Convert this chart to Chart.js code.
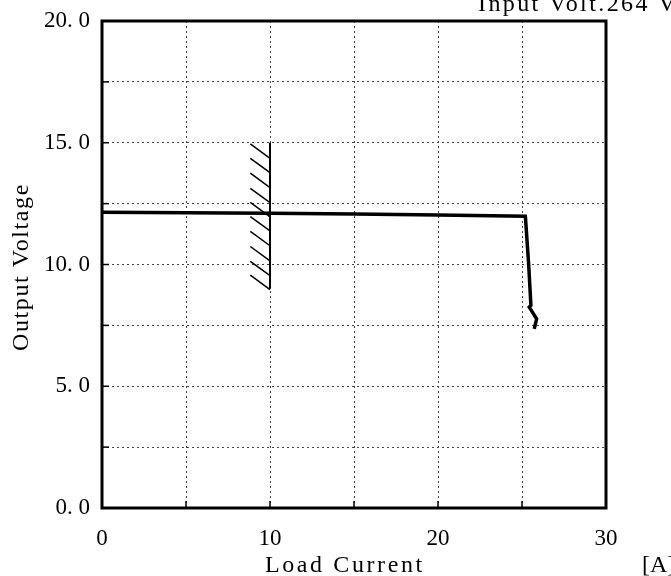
<!DOCTYPE html>
<html lang="en">
<head>
<meta charset="utf-8">
<title>Output Voltage vs Load Current</title>
<script src="https://cdn.jsdelivr.net/npm/chart.js"></script>
<style>
  body { margin: 0; background: #fff; }
</style>
</head>
<body>
<canvas id="loadChart" width="671" height="576"></canvas>
<script>
// load curve, input 264 V
const currentA = [0, 5, 10, 15, 20, 25.2, 25.4, 25.53, 25.43, 25.87, 25.73];
const voltageV = [12.15, 12.13, 12.1, 12.07, 12.03, 11.98, 9.96, 8.32, 8.25, 7.77, 7.36];

// hatched limit mark at 10 A
const limitX = [10, 10];
const limitY = [15.0, 9.0];
const hatchLeftX = 8.83;
const hatchTopY = [14.95, 14.36, 13.75, 13.13, 12.55, 11.97, 11.36, 10.74, 10.13, 9.56];
const hatchBottomY = [14.36, 13.77, 13.16, 12.54, 11.96, 11.38, 10.77, 10.15, 9.54, 8.97];

// ticks that carry a label (grid runs every 5 A / 2.5 V)
const xLabelTicks = [0, 10, 20, 30];
const yLabelTicks = [0, 5, 10, 15, 20];

const FONT = "'Liberation Serif', 'Times New Roman', serif";

let curvePts = currentA.map((x, i) => ({ x: x, y: voltageV[i] }));
let limitPts = limitX.map((x, i) => ({ x: x, y: limitY[i] }));
let hatchPts = [];
hatchTopY.forEach((top, i) => {
    hatchPts.push({ x: hatchLeftX, y: top });
    hatchPts.push({ x: 10, y: hatchBottomY[i] });
    hatchPts.push({ x: 10, y: null });
});

// frame, inner tick stubs, axis titles and the input note
const framePlugin = {
    id: 'frame',
    afterDraw(chart) {
        const c = chart.ctx;
        const a = chart.chartArea;
        const xs = chart.scales.x;
        const ys = chart.scales.y;
        c.save();
        c.strokeStyle = '#000';
        c.lineWidth = 1.5;
        xs.ticks.forEach(t => {
            if (t.value <= xs.min || t.value >= xs.max) return;
            const px = xs.getPixelForValue(t.value);
            c.beginPath(); c.moveTo(px, a.bottom); c.lineTo(px, a.bottom - 7); c.stroke();
        });
        ys.ticks.forEach(t => {
            if (t.value <= ys.min || t.value >= ys.max) return;
            const py = ys.getPixelForValue(t.value);
            c.beginPath(); c.moveTo(a.left, py); c.lineTo(a.left + 7, py); c.stroke();
        });
        c.lineWidth = 3;
        c.strokeRect(a.left, a.top, a.right - a.left, a.bottom - a.top);

        c.fillStyle = '#000';
        c.font = '24px ' + FONT;
        c.textAlign = 'left';
        c.textBaseline = 'alphabetic';
        c.letterSpacing = '2.6px';
        c.fillText('Load Current', 265, 572);
        c.letterSpacing = '0px';
        c.fillText('[A]', 642, 572);
        c.letterSpacing = '2.4px';
        c.fillText('Input Volt.264 V', 478, 11);

        c.translate(22, 351);
        c.rotate(-Math.PI / 2);
        c.textBaseline = 'middle';
        c.letterSpacing = '1.6px';
        c.fillText('Output Voltage', 0, 0);
        c.restore();
    }
};

let ctx = document.getElementById('loadChart').getContext('2d');
let loadChart = new Chart(ctx, {
    type: 'scatter',
    data: {
        datasets: [{
            label: 'Output',
            data: curvePts,
            showLine: true,
            borderColor: '#000',
            borderWidth: 3.5,
            pointRadius: 0,
            tension: 0
        }, {
            label: 'Limit',
            data: limitPts,
            showLine: true,
            borderColor: '#000',
            borderWidth: 2,
            pointRadius: 0
        }, {
            label: 'Hatch',
            data: hatchPts,
            showLine: true,
            spanGaps: false,
            borderColor: '#000',
            borderWidth: 1.5,
            pointRadius: 0
        }]
    },
    options: {
        responsive: false,
        animation: false,
        layout: { padding: { top: 21, right: 65, left: 0, bottom: 0 } },
        plugins: {
            legend: { display: false },
            tooltip: { enabled: false }
        },
        scales: {
            x: {
                type: 'linear',
                min: 0,
                max: 30,
                afterFit: s => { s.height = 68; },
                ticks: {
                    stepSize: 5,
                    padding: 17,
                    maxRotation: 0,
                    color: '#000',
                    font: { family: FONT, size: 23 },
                    callback: v => xLabelTicks.includes(v) ? String(v) : ''
                },
                grid: { color: '#444', lineWidth: 1, drawTicks: false },
                border: { display: false, dash: [2, 3] }
            },
            y: {
                min: 0,
                max: 20,
                afterFit: s => {
                    s.width = 102;
                    s.paddingTop = 0;
                    s.paddingBottom = 0;
                },
                ticks: {
                    stepSize: 2.5,
                    padding: 12,
                    color: '#000',
                    font: { family: FONT, size: 23 },
                    callback: v => yLabelTicks.includes(v) ? v.toFixed(1).replace('.', '. ') : ''
                },
                grid: { color: '#444', lineWidth: 1, drawTicks: false },
                border: { display: false, dash: [2, 3] }
            }
        }
    },
    plugins: [framePlugin]
});
</script>
</body>
</html>
